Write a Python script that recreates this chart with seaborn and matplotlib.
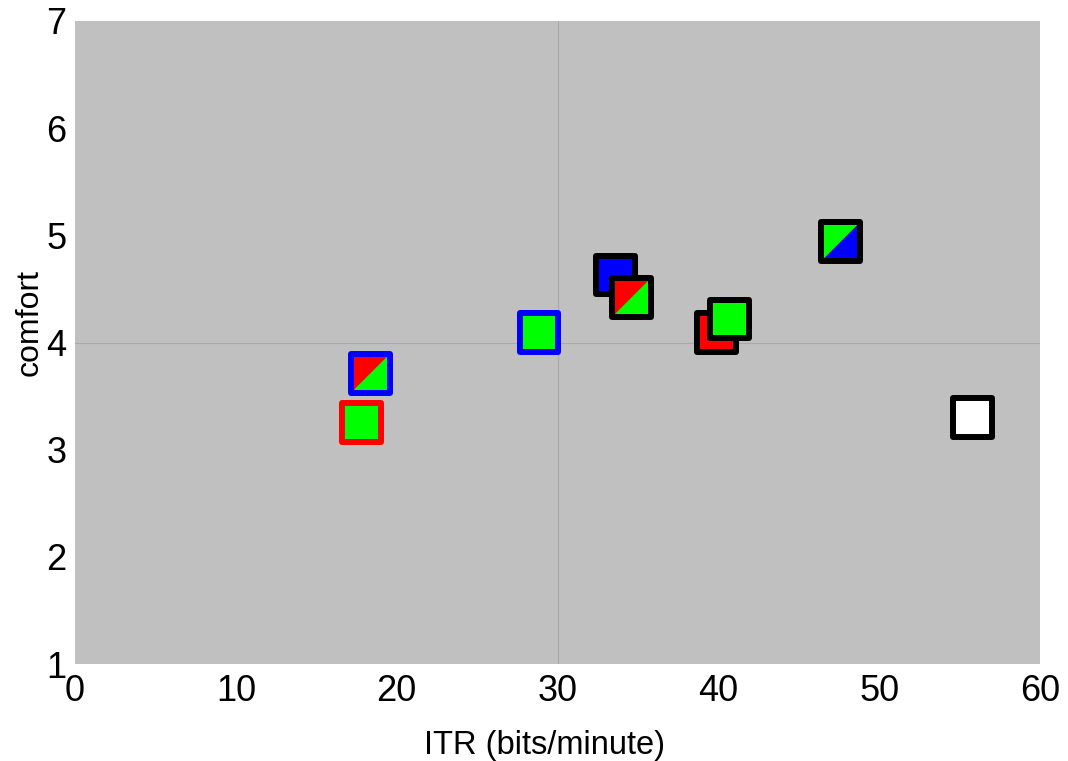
import matplotlib
matplotlib.use("Agg")
import matplotlib.pyplot as plt
import seaborn as sns
from matplotlib.path import Path

# Data
itr = [17.8, 18.35, 28.85, 33.6, 34.6, 39.9, 40.7, 47.6, 55.8]
comfort = [3.25, 3.71, 4.09, 4.63, 4.42, 4.09, 4.22, 4.94, 3.30]
fill_upper = ["#00ff00", "#ff0000", "#00ff00", "#0000ff", "#ff0000", "#ff0000", "#00ff00", "#00ff00", "#ffffff"]
fill_lower = ["#00ff00", "#00ff00", "#00ff00", "#0000ff", "#00ff00", "#ff0000", "#00ff00", "#0000ff", "#ffffff"]
edges = ["#ff0000", "#0000ff", "#0000ff", "#000000", "#000000", "#000000", "#000000", "#000000", "#000000"]
xticks = [0, 10, 20, 30, 40, 50, 60]
yticks = [1, 2, 3, 4, 5, 6, 7]

sns.set_style("white")
plt.rcParams["font.family"] = ["Liberation Sans", "DejaVu Sans"]
plt.rcParams["text.color"] = "black"
plt.rcParams["axes.labelcolor"] = "black"
plt.rcParams["xtick.color"] = "black"
plt.rcParams["ytick.color"] = "black"

fig = plt.figure(figsize=(10.68, 7.61), dpi=100)
ax = fig.add_axes([75 / 1068, 1 - 664 / 761, 965 / 1068, 643 / 761])
ax.set_facecolor("#c0c0c0")

tri = Path([(-1, -1), (1, 1), (-1, 1), (-1, -1)], [Path.MOVETO, Path.LINETO, Path.LINETO, Path.CLOSEPOLY])
S = 780
LW = 4.3
z = 3
for i in range(len(itr)):
    sns.scatterplot(x=[itr[i]], y=[comfort[i]], marker="s", s=S, color=fill_lower[i],
                    edgecolor="none", linewidth=0, ax=ax, zorder=z, legend=False)
    if fill_upper[i] != fill_lower[i]:
        sns.scatterplot(x=[itr[i]], y=[comfort[i]], marker=tri, s=S, color=fill_upper[i],
                        edgecolor="none", linewidth=0, ax=ax, zorder=z + 0.1, legend=False)
    sns.scatterplot(x=[itr[i]], y=[comfort[i]], marker="s", s=S, facecolor="none",
                    edgecolor=edges[i], linewidth=LW, ax=ax, zorder=z + 0.2, legend=False)
    z += 1

ax.axvline(30, color="#a9a9a9", lw=0.8, zorder=1)
ax.axhline(4, color="#a9a9a9", lw=0.8, zorder=1)

ax.set_xlim(0, 60)
ax.set_ylim(1, 7)
ax.set_xticks(xticks)
ax.set_yticks(yticks)
ax.tick_params(axis="both", length=0, labelsize=26, colors="black")
ax.tick_params(axis="x", pad=7)
ax.tick_params(axis="y", pad=6)
for sp in ax.spines.values():
    sp.set_visible(False)

ax.set_xlabel("ITR (bits/minute)", fontsize=23.5, color="black")
ax.set_ylabel("comfort", fontsize=23, color="black")
ax.xaxis.set_label_coords((545 - 75) / 965, -(730 - 664) / 643)
ax.yaxis.set_label_coords(-(75 - 45) / 965, (664 - 322) / 643)

fig.savefig("out.png", dpi=100)
